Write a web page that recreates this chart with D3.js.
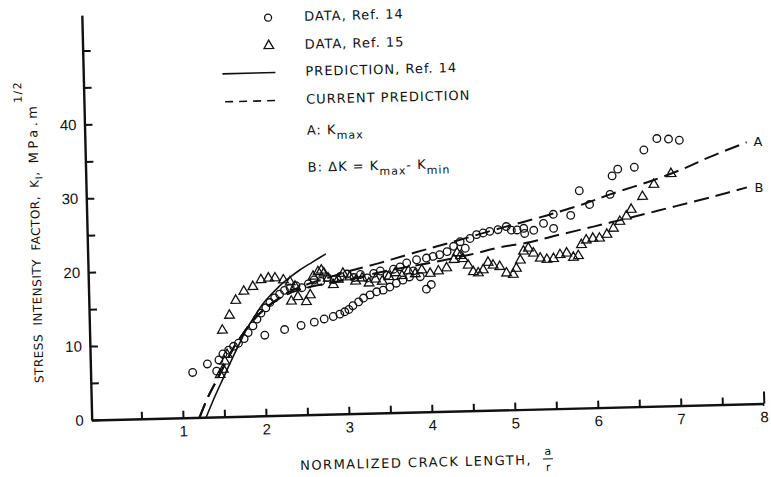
<!DOCTYPE html>
<html><head><meta charset="utf-8">
<script src="https://cdn.jsdelivr.net/npm/d3@7"></script>
<style>
body{margin:0;background:#fff;}
svg{display:block;font-family:"DejaVu Sans",sans-serif;}
</style></head><body>
<svg id="chart" width="771" height="477"></svg>
<script>
// ---------------- data ----------------
const xTicks = [0.5,1,1.5,2,2.5,3,3.5,4,4.5,5,5.5,6,6.5,7,7.5,8];
const xTickLabels = [1,2,3,4,5,6,7,8];
const yTicks = [0,5,10,15,20,25,30,35,40,45,50];
const yTickLabels = [0,10,20,30,40];

// DATA, Ref. 14 (circles)
const ref14 = [
 [1.13,6.1],[1.31,7.2],[1.42,6.2],[1.45,7.7],[1.5,8.5],[1.57,9.0],[1.63,9.5],[1.69,9.9],[1.76,10.5],[1.81,11.3],
 [1.87,12.2],[1.92,13.1],[1.97,13.9],[2.03,14.6],[2.08,15.3],[2.14,15.9],[2.2,16.4],[2.26,16.9],[2.33,17.2],[2.4,17.5],
 [2.47,17.2],[2.55,17.7],[2.62,18.2],[2.7,18.0],[2.78,18.5],[2.86,18.2],[2.94,18.6],[3.02,18.9],[3.1,18.4],[3.18,18.8],
 [3.26,18.3],[3.34,18.9],[3.42,19.2],[3.5,18.6],[3.58,19.4],[3.66,19.7],[3.74,20.2],[3.82,19.1],[3.9,18.3],[3.86,20.6],
 [3.98,20.8],[4.06,21.0],[4.14,21.2],[4.23,21.6],[4.31,22.3],[4.39,22.9],[4.45,22.0],[4.51,23.3],[4.59,23.8],[4.67,24.0],
 [4.75,24.2],[4.85,24.4],[4.95,24.8],[5.01,24.3],[5.08,24.3],[5.16,24.5],[5.17,23.8],[5.28,24.2],[5.4,25.1],[5.52,24.4],
 [5.52,26.3],[5.73,26.1],[5.84,29.4],[5.96,27.5],[6.21,28.8],[6.24,31.3],[6.31,32.2],[6.51,32.4],[6.63,34.7],[6.79,36.2],
 [6.93,36.1],[7.06,35.9],
 [2.01,10.9],[2.25,11.6],[2.45,12.1],[2.61,12.5],[2.73,12.9],[2.84,13.2],[2.92,13.5],[2.98,13.8],[3.03,14.1],[3.08,14.6],
 [3.15,15.1],[3.21,15.6],[3.29,16.0],[3.37,16.4],[3.45,16.6],[3.53,17.0],[3.61,17.5],[3.69,17.9],[3.77,18.3],
 [3.97,16.6],[4.03,17.2]
];

// DATA, Ref. 15 (triangles)
const ref15 = [
 [1.46,5.7],[1.5,6.4],[1.52,7.5],[1.55,8.4],
 [1.5,11.7],[1.59,13.7],[1.67,15.7],[1.77,16.9],[1.88,17.5],[1.98,18.4],[2.07,18.6],[2.15,18.6],[2.25,18.3],[2.33,18.0],
 [2.39,17.4],[2.34,15.4],[2.42,16.0],[2.52,15.3],[2.57,16.2],[2.61,18.7],[2.67,19.3],[2.71,19.5],[2.74,19.1],[2.79,18.4],
 [2.85,17.5],[2.91,18.2],[2.97,19.0],[3.05,18.5],[3.12,17.9],[3.2,18.3],[3.28,17.6],[3.36,18.1],[3.44,17.8],[3.52,18.4],
 [3.6,18.9],[3.68,18.5],[3.76,19.1],[3.84,18.7],[3.92,19.2],[4.02,18.7],[4.12,19.0],[4.22,19.4],[4.31,20.5],[4.39,21.0],
 [4.35,21.4],[4.42,20.6],[4.48,19.7],[4.54,18.8],[4.6,18.6],[4.66,19.0],[4.72,20.0],[4.78,19.6],[4.86,19.4],[4.94,18.5],
 [5.02,18.3],[5.06,19.1],[5.11,20.2],[5.15,21.4],[5.21,21.8],[5.27,21.1],[5.35,20.4],[5.43,20.2],[5.51,20.3],[5.59,20.8],
 [5.67,21.0],[5.75,20.4],[5.81,20.6],[5.85,22.1],[5.91,22.7],[5.99,22.9],[6.07,22.9],[6.16,23.4],[6.24,24.2],[6.32,25.1],
 [6.4,25.8],[6.46,26.7],[6.6,28.4],[6.74,30.0],[6.95,31.4]
];

// PREDICTION, Ref. 14 (solid)
const predRef14 = [[1.28,0],[1.4,3],[1.5,5.3],[1.6,7.6],[1.7,9.8],[1.8,11.9],[1.9,13.6],[2.0,15.2],[2.1,16.4],
 [2.2,17.5],[2.3,18.4],[2.45,19.6],[2.6,20.6],[2.77,21.7]];

// CURRENT PREDICTION A: Kmax (dashed)
const currentA = [[1.2,0],[1.32,3],[1.42,5],[1.53,7.3],[1.63,9.3],[1.75,11.2],[1.87,12.9],[2.0,14.3],[2.16,15.6],
 [2.3,16.6],[2.5,17.5],[2.77,18.4],[3.05,19.3],[3.42,20.3],[3.78,21.4],[4.2,22.6],[4.88,24.6],[5.24,25.6],[5.52,26.4],
 [5.89,27.6],[6.21,28.8],[6.74,30.6],[7.14,32.2],[7.39,33.4],[7.87,35.4]];

// CURRENT PREDICTION B: ΔK (dashed)
const currentB = [[1.2,0],[1.32,3],[1.42,5],[1.53,7.3],[1.63,9.3],[1.75,11.2],[1.87,12.9],[2.0,14.3],[2.16,15.6],
 [2.3,16.4],[2.5,17.1],[2.77,17.7],[3.05,18.2],[3.5,19.2],[4.0,20.1],[4.5,21.1],[4.87,22.0],[5.23,22.6],[5.5,23.3],
 [6.0,24.5],[6.49,25.7],[7.0,27.0],[7.5,28.3],[7.86,29.3]];

// ---------------- drawing ----------------
const TILT = -1.4;
const INK = "#111";
const svg = d3.select("#chart");
svg.append("rect").attr("width",771).attr("height",477).attr("fill","#fff");

const x = d3.scaleLinear().domain([-0.1, 8]).range([91.7, 764]);
const y = d3.scaleLinear().domain([0, 54.8]).range([420, 15]);

const g = svg.append("g").attr("transform", `rotate(${TILT},${x(-0.1)},${y(0)})`);

// x axis
const xAxis = d3.axisBottom(x).tickValues(xTicks).tickSizeInner(-7).tickSizeOuter(0).tickPadding(8)
  .tickFormat(d => xTickLabels.includes(d) ? d : "");
const gx = g.append("g").attr("transform", `translate(0,${y(0)})`).call(xAxis);
gx.selectAll(".tick").filter(d => d === 8).select("line").attr("y2", -12);

// y axis
const yAxis = d3.axisLeft(y).tickValues(yTicks).tickSizeInner(-8).tickSizeOuter(0).tickPadding(8)
  .tickFormat(d => yTickLabels.includes(d) ? d : "");
const gy = g.append("g").attr("transform", `translate(${x(-0.1)},0)`).call(yAxis);

[gx, gy].forEach(a => {
  a.select(".domain").attr("stroke", INK).attr("stroke-width", 2.4);
  a.selectAll(".tick line").attr("stroke", INK).attr("stroke-width", 2);
  a.selectAll(".tick text").attr("fill", INK).attr("font-family", "Liberation Sans, sans-serif").attr("font-size", 15);
});

// curves
const line = d3.line().x(d => x(d[0])).y(d => y(d[1])).curve(d3.curveCatmullRom.alpha(0.5));
g.append("path").datum(predRef14).attr("d", line).attr("fill","none").attr("stroke",INK).attr("stroke-width",1.6);
[currentA, currentB].forEach(s => {
  g.append("path").datum(s).attr("d", line).attr("fill","none").attr("stroke",INK)
   .attr("stroke-width",2).attr("stroke-dasharray","15,7");
});

// data points
g.append("g").selectAll("circle").data(ref14).join("circle")
  .attr("cx", d => x(d[0])).attr("cy", d => y(d[1])).attr("r", 3.8)
  .attr("fill","none").attr("stroke",INK).attr("stroke-width",1.3);
const tri = d3.symbol(d3.symbolTriangle).size(40);
g.append("g").selectAll("path").data(ref15).join("path")
  .attr("d", tri).attr("transform", d => `translate(${x(d[0])},${y(d[1])})`)
  .attr("fill","none").attr("stroke",INK).attr("stroke-width",1.3);

// curve labels
svg.append("text").attr("x",758).attr("y",146).attr("text-anchor","middle").attr("font-size",13).attr("fill",INK).text("A");
svg.append("text").attr("x",759).attr("y",192).attr("text-anchor","middle").attr("font-size",13).attr("fill",INK).text("B");

// legend
const lg = svg.append("g").attr("transform", `rotate(${TILT},380,95)`).attr("fill",INK).attr("font-size",13).attr("letter-spacing",1);
lg.append("circle").attr("cx",270).attr("cy",15).attr("r",3.5).attr("fill","none").attr("stroke",INK).attr("stroke-width",1.3);
lg.append("path").attr("d",tri).attr("transform","translate(270,43)").attr("fill","none").attr("stroke",INK).attr("stroke-width",1.3);
lg.append("line").attr("x1",223).attr("x2",276).attr("y1",70).attr("y2",70).attr("stroke",INK).attr("stroke-width",1.6);
lg.append("line").attr("x1",225).attr("x2",278).attr("y1",98).attr("y2",98).attr("stroke",INK).attr("stroke-width",1.6).attr("stroke-dasharray","8,6");
lg.append("text").attr("x",306).attr("y",19).text("DATA, Ref. 14");
lg.append("text").attr("x",306).attr("y",47).text("DATA, Ref. 15");
lg.append("text").attr("x",306).attr("y",74).text("PREDICTION, Ref. 14");
lg.append("text").attr("x",306).attr("y",102).text("CURRENT PREDICTION");
const ta = lg.append("text").attr("x",306).attr("y",133);
ta.append("tspan").text("A: K");
ta.append("tspan").attr("dy",5).attr("font-size",11).text("max");
const tb = lg.append("text").attr("x",306).attr("y",170);
tb.append("tspan").text("B: \u0394K = K");
tb.append("tspan").attr("dy",5).attr("font-size",11).text("max");
tb.append("tspan").attr("dy",-5).text("- K");
tb.append("tspan").attr("dy",5).attr("font-size",11).text("min");

// x title
const xt = svg.append("g").attr("transform", `rotate(${TILT},420,462)`).attr("fill",INK);
xt.append("text").attr("x",300).attr("y",467).attr("font-size",13).attr("letter-spacing",1.5).text("NORMALIZED CRACK LENGTH,");
xt.append("text").attr("x",548).attr("y",458).attr("text-anchor","middle").attr("font-size",11).text("a");
xt.append("line").attr("x1",543).attr("x2",553).attr("y1",462).attr("y2",462).attr("stroke",INK).attr("stroke-width",1);
xt.append("text").attr("x",548).attr("y",474).attr("text-anchor","middle").attr("font-size",11).text("r");

// y title
const yt = svg.append("text").attr("transform", `translate(43.5,383) rotate(${-90 + TILT})`)
  .attr("font-size",12).attr("fill",INK).attr("letter-spacing",0.5).attr("word-spacing",4);
yt.append("tspan").text("STRESS INTENSITY FACTOR, K");
yt.append("tspan").attr("dy",4).attr("font-size",10).text("I");
yt.append("tspan").attr("dy",-4).text(", ");
yt.append("tspan").attr("font-size",13).attr("letter-spacing",3.5).text("MPa.m");
yt.append("tspan").attr("dy",-15).attr("font-size",11).attr("letter-spacing",1.5).text("1/2");
</script>
</body></html>
